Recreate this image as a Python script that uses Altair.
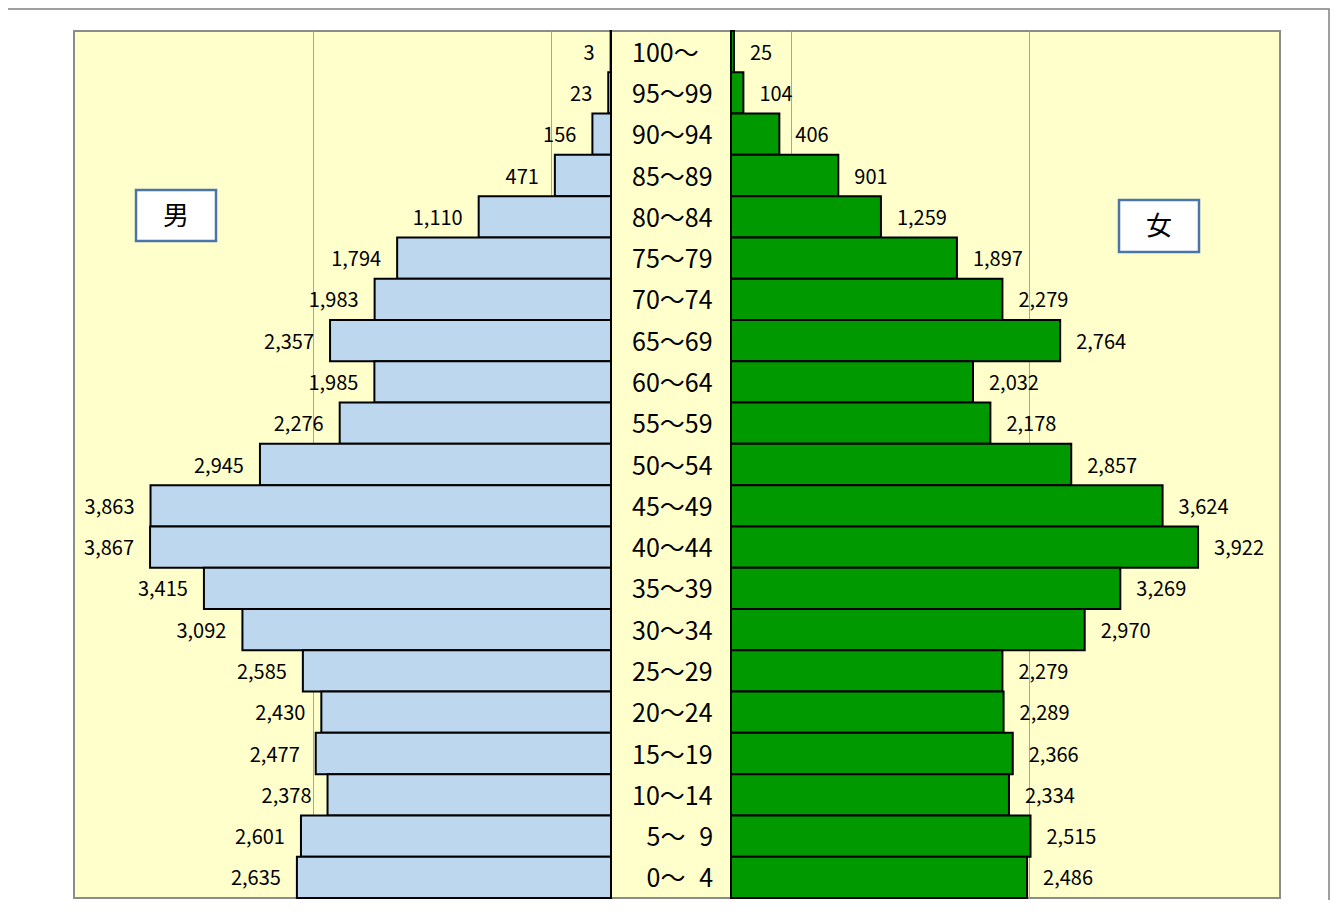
import altair as alt
import pandas as pd

ages = ["100～", "95～99", "90～94", "85～89", "80～84", "75～79", "70～74",
        "65～69", "60～64", "55～59", "50～54", "45～49", "40～44", "35～39",
        "30～34", "25～29", "20～24", "15～19", "10～14", "5～\u20079", "0～\u20074"]
male = [3, 23, 156, 471, 1110, 1794, 1983, 2357, 1985, 2276, 2945, 3863, 3867,
        3415, 3092, 2585, 2430, 2477, 2378, 2601, 2635]
female = [25, 104, 406, 901, 1259, 1897, 2279, 2764, 2032, 2178, 2857, 3624, 3922,
          3269, 2970, 2279, 2289, 2366, 2334, 2515, 2486]
grid_values = [500, 2500]
title_text = "平成２５年１月１日現在（単位：人）"

df = pd.DataFrame({"age": ages, "male": male, "female": female})

W, H = 1206, 867
FONT = "Noto Sans CJK JP"

yenc = alt.Y("age:N", sort=ages, axis=None,
             scale=alt.Scale(paddingInner=0, paddingOuter=0))

mscale = alt.Scale(domain=[0, 4505], range=[537, 0], nice=False, zero=True)
fscale = alt.Scale(domain=[0, 4610], range=[657, 1206], nice=False, zero=True)

def xaxis():
    return alt.Axis(values=grid_values, grid=True, gridColor="#a6a6a6", gridWidth=1,
                    labels=False, ticks=False, domain=False, title=None)

male_bars = alt.Chart().mark_bar(color="#bdd7ee", stroke="black", strokeWidth=2).encode(
    x=alt.X("male:Q", scale=mscale, axis=xaxis()), y=yenc)
male_text = alt.Chart().mark_text(align="right", baseline="middle", dx=-16, dy=2,
                                  font=FONT, fontSize=20, color="black").encode(
    x=alt.X("male:Q", scale=mscale), y=yenc, text=alt.Text("male:Q", format=","))
male_layer = alt.layer(male_bars, male_text)

fem_bars = alt.Chart().mark_bar(color="#009900", stroke="black", strokeWidth=2).encode(
    x=alt.X("female:Q", scale=fscale, axis=xaxis()), y=yenc)
fem_text = alt.Chart().mark_text(align="left", baseline="middle", dx=16, dy=2,
                                 font=FONT, fontSize=20, color="black").encode(
    x=alt.X("female:Q", scale=fscale), y=yenc, text=alt.Text("female:Q", format=","))
fem_layer = alt.layer(fem_bars, fem_text)

# single-digit lower bounds are indented by one digit width, as in a fixed-width layout
center = alt.Chart().transform_calculate(
    px="indexof(datum.age, '～') == 1 ? 572.5 : 558"
).mark_text(align="left", baseline="middle", dy=2, font=FONT,
            fontSize=25, color="black").encode(
    x=alt.X("px:Q", scale=None, axis=None), y=yenc, text="age:N")

one = alt.Data(values=[{"k": 1}])

def box(x0, x1, y0, y1, label):
    r = alt.Chart(one).mark_rect(fill="white", stroke="#4a75a8", strokeWidth=2.5).encode(
        x=alt.value(x0), x2=alt.value(x1), y=alt.value(y0), y2=alt.value(y1))
    t = alt.Chart(one).mark_text(align="center", baseline="middle", font=FONT,
                                 fontSize=26, color="black").encode(
        x=alt.value((x0 + x1) / 2), y=alt.value((y0 + y1) / 2 + 1), text=alt.value(label))
    return r + t

box_m = box(62, 142, 159, 210, "男")
box_f = box(1045, 1125, 169, 221, "女")

frame = alt.Chart(one).mark_rect(fillOpacity=0, stroke="#808080", strokeWidth=1.5).encode(
    x=alt.value(-67), x2=alt.value(1255), y=alt.value(-22), y2=alt.value(1000))

title = alt.Chart(one).mark_text(align="right", baseline="bottom", font=FONT,
                                 fontSize=27, color="black").encode(
    x=alt.value(1226), y=alt.value(-21), text=alt.value(title_text))

chart = alt.layer(
    male_layer, fem_layer, center, box_m, box_f, frame, title, data=df
).resolve_scale(x="independent").properties(
    width=W, height=H,
    padding={"left": 66, "top": 23, "right": 50, "bottom": 2},
    autosize=alt.AutoSizeParams(type="none"),
    background="white",
).configure_view(fill="#ffffcc", stroke="#8c8c8c", strokeWidth=2)

chart.save("out.html", embed_options={"renderer": "svg", "actions": False})
